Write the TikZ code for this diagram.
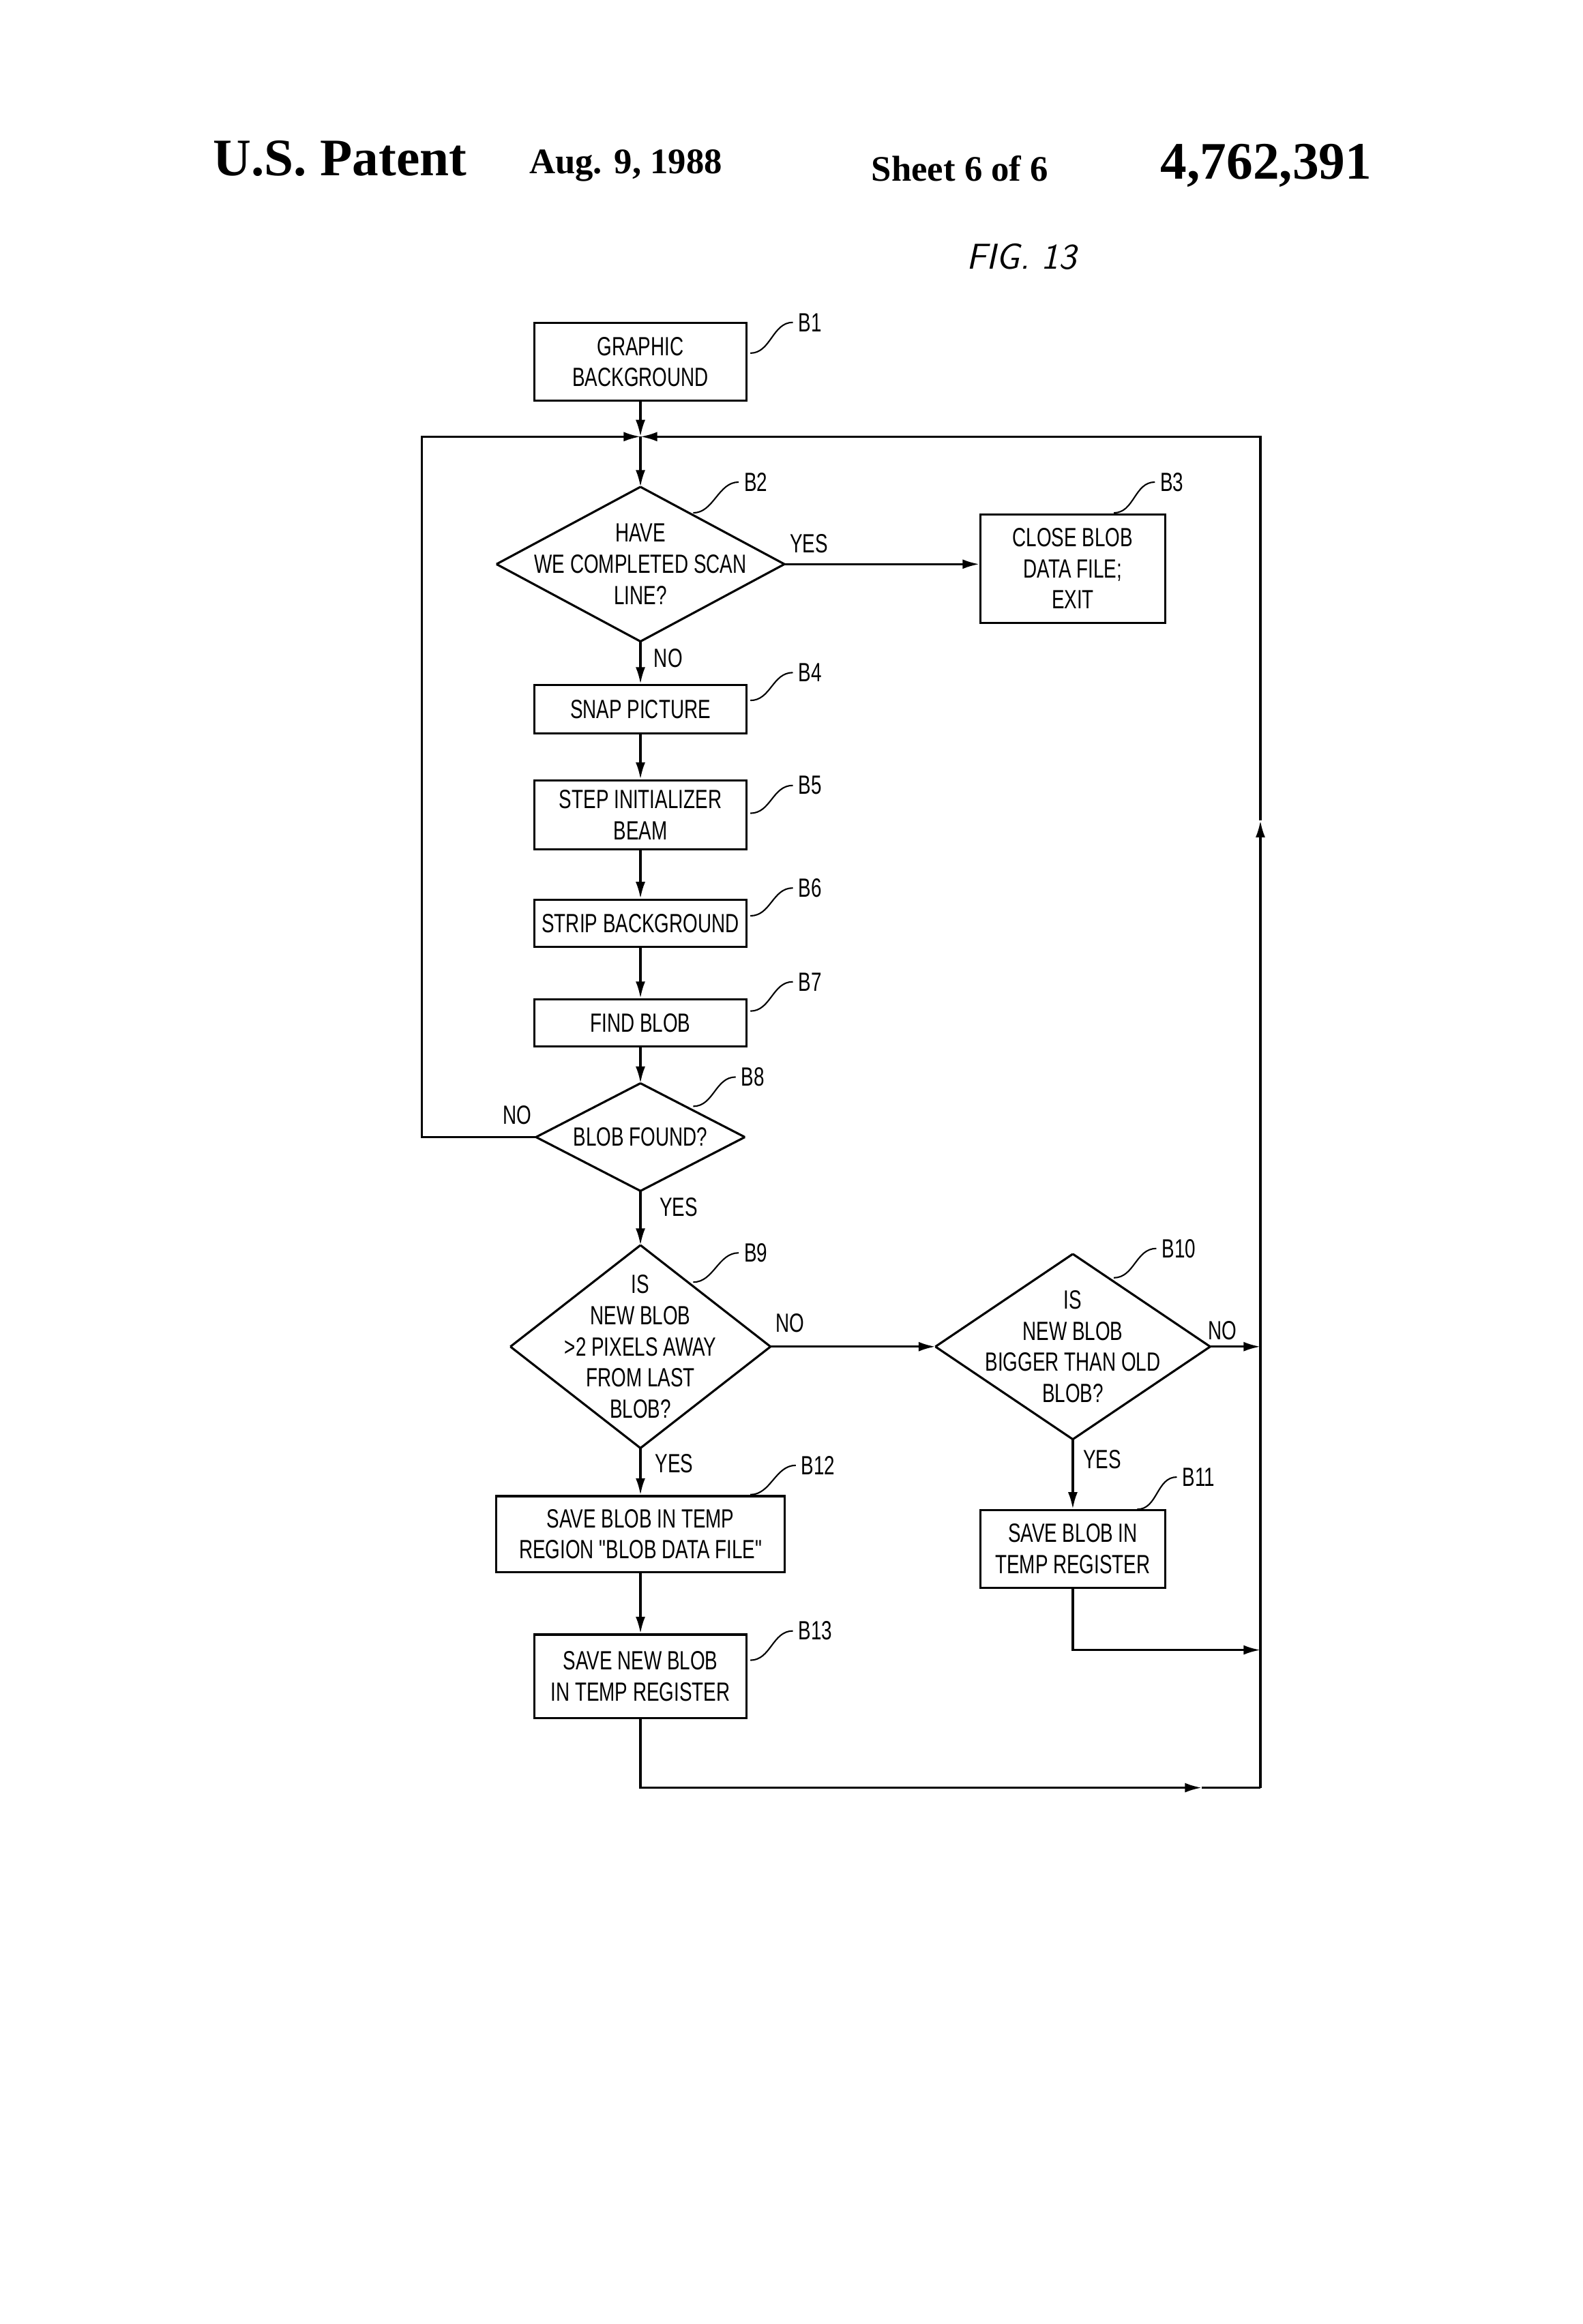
\documentclass[tikz,border=0pt]{standalone}
\usepackage{fontspec}
\setmainfont{Liberation Serif}
\newfontfamily\cf[FakeStretch=0.72]{Liberation Sans}
\usetikzlibrary{shapes.geometric,arrows.meta,calc}
\begin{document}
\begin{tikzpicture}[x=0.02148cm,y=-0.02148cm,
  every path/.style={line width=0.9pt},
  box/.style={draw,font=\cf\fontsize{11}{13}\selectfont,align=center,inner sep=0pt},
  dia/.style={draw=none,font=\cf\fontsize{11}{13}\selectfont,align=center,inner sep=0pt,
    append after command={\pgfextra{\let\dn\tikzlastnode}
      (\dn.west) edge[-,draw] (\dn.north) (\dn.north) edge[-,draw] (\dn.east)
      (\dn.east) edge[-,draw] (\dn.south) (\dn.south) edge[-,draw] (\dn.west)}},
  lab/.style={font=\cf\fontsize{11}{13}\selectfont},
  ar/.style={-{Latex[length=7pt,width=4pt]}},
  lead/.style={line width=0.6pt}]
\useasboundingbox (0,0) rectangle (1080,1586);
\fill[white] (0,0) rectangle (1080,1586);
% header
\node[font=\bfseries\fontsize{22}{24}\selectfont] (h1) at (232,108) {U.S. Patent};
\node[font=\bfseries\fontsize{15}{17}\selectfont] (h2) at (427,113) {Aug. 9, 1988};
\node[font=\bfseries\fontsize{15}{17}\selectfont] (h3) at (655,115) {Sheet 6 of 6};
\node[font=\bfseries\fontsize{22}{24}\selectfont] (h4) at (864,113) {4,762,391};
\node[font=\sffamily\itshape\fontsize{15}{17}\selectfont] (fig) at (697,175) {FIG. 13};
% nodes
\node[box,minimum width=145*0.02148cm,minimum height=53*0.02148cm] (b1) at (437,247) {GRAPHIC\\BACKGROUND};
\node[dia,minimum width=195*0.02148cm,minimum height=104*0.02148cm] (b2) at (437,385) {HAVE\\WE COMPLETED SCAN\\LINE?};
\node[box,minimum width=126*0.02148cm,minimum height=74*0.02148cm] (b3) at (732,388) {CLOSE BLOB\\DATA FILE;\\EXIT};
\node[box,minimum width=145*0.02148cm,minimum height=33*0.02148cm] (b4) at (437,484) {SNAP PICTURE};
\node[box,minimum width=145*0.02148cm,minimum height=47*0.02148cm] (b5) at (437,556) {STEP INITIALIZER\\BEAM};
\node[box,minimum width=145*0.02148cm,minimum height=32*0.02148cm] (b6) at (437,630) {STRIP BACKGROUND};
\node[box,minimum width=145*0.02148cm,minimum height=32*0.02148cm] (b7) at (437,698) {FIND BLOB};
\node[dia,minimum width=141*0.02148cm,minimum height=72*0.02148cm] (b8) at (437,776) {BLOB FOUND?};
\node[dia,minimum width=176*0.02148cm,minimum height=137*0.02148cm] (b9) at (437,919) {IS\\NEW BLOB\\>2 PIXELS AWAY\\FROM LAST\\BLOB?};
\node[dia,minimum width=186*0.02148cm,minimum height=125*0.02148cm] (b10) at (732,919) {IS\\NEW BLOB\\BIGGER THAN OLD\\BLOB?};
\node[box,minimum width=126*0.02148cm,minimum height=53*0.02148cm] (b11) at (732,1057) {SAVE BLOB IN\\TEMP REGISTER};
\node[box,minimum width=197*0.02148cm,minimum height=52*0.02148cm] (b12) at (437,1047) {SAVE BLOB IN TEMP\\REGION "BLOB DATA FILE"};
\node[box,minimum width=145*0.02148cm,minimum height=57*0.02148cm] (b13) at (437,1144) {SAVE NEW BLOB\\IN TEMP REGISTER};
% coordinates
\coordinate (j) at (437,298);
\coordinate (tl) at (288,298);
\coordinate (tr) at (860,298);
\coordinate (l8) at (288,776);
\coordinate (r10) at (860,919);
\coordinate (c11) at (732,1126);
\coordinate (r11) at (860,1126);
\coordinate (c13) at (437,1220);
\coordinate (r13) at (860,1220);
\coordinate (mr) at (860,560);
\coordinate (m13) at (820,1220);
% connectors
\draw[ar] (b1.south) -- (j);
\draw[ar] (j) -- (b2.north);
\draw[ar] (b2.east) -- (b2.east -| b3.west);
\draw[ar] (b2.south) -- (b4.north);
\draw[ar] (b4) -- (b5);
\draw[ar] (b5) -- (b6);
\draw[ar] (b6) -- (b7);
\draw[ar] (b7) -- (b8);
\draw[ar] (b8) -- (b9);
\draw[ar] (b8.west) -- (l8) -- (tl) -- (j);
\draw[ar] (b9.east) -- (b9.east -| b10.west);
\draw[ar] (b9.south) -- (b12.north);
\draw[ar] (b12) -- (b13);
\draw[ar] (b10.south) -- (b11.north);
\draw[ar] (b10.east) -- (r10);
\draw[ar] (b11.south) -- (c11) -- (r11);
\draw[ar] (b13.south) -- (c13) -- (m13);
\draw (m13) -- (r13);
\draw[ar] (r13) -- (mr);
\draw[ar] (mr) -- (tr) -- (j);
% labels
\node[lab] (y1) at (552,371) {YES};
\node[lab] (n1) at (456,449) {NO};
\node[lab] (n2) at (353,761) {NO};
\node[lab] (y2) at (463,824) {YES};
\node[lab] (n3) at (539,903) {NO};
\node[lab] (y3) at (460,999) {YES};
\node[lab] (n4) at (834,908) {NO};
\node[lab] (y4) at (752,996) {YES};
% reference labels
\foreach \n/\lx/\ly/\px/\py in {B1/544/220/512/241, B2/507/329/473/350, B3/791/329/760/350,
  B4/544/459/512/478, B5/544/536/512/555, B6/544/606/512/625, B7/544/670/512/690,
  B8/505/735/473/755, B9/507/855/473/875, B10/792/852/760/872, B11/806/1008/776/1030,
  B12/546/1000/512/1020, B13/544/1113/512/1133}{
  \node[lab,anchor=west,inner sep=0pt] (r\n) at (\lx,\ly) {\n};
  \draw[lead] (\px,\py) .. controls +(14,0) and +(-14,0) .. ($(r\n.west)+(-3,0)$);
}
\end{tikzpicture}
\end{document}
